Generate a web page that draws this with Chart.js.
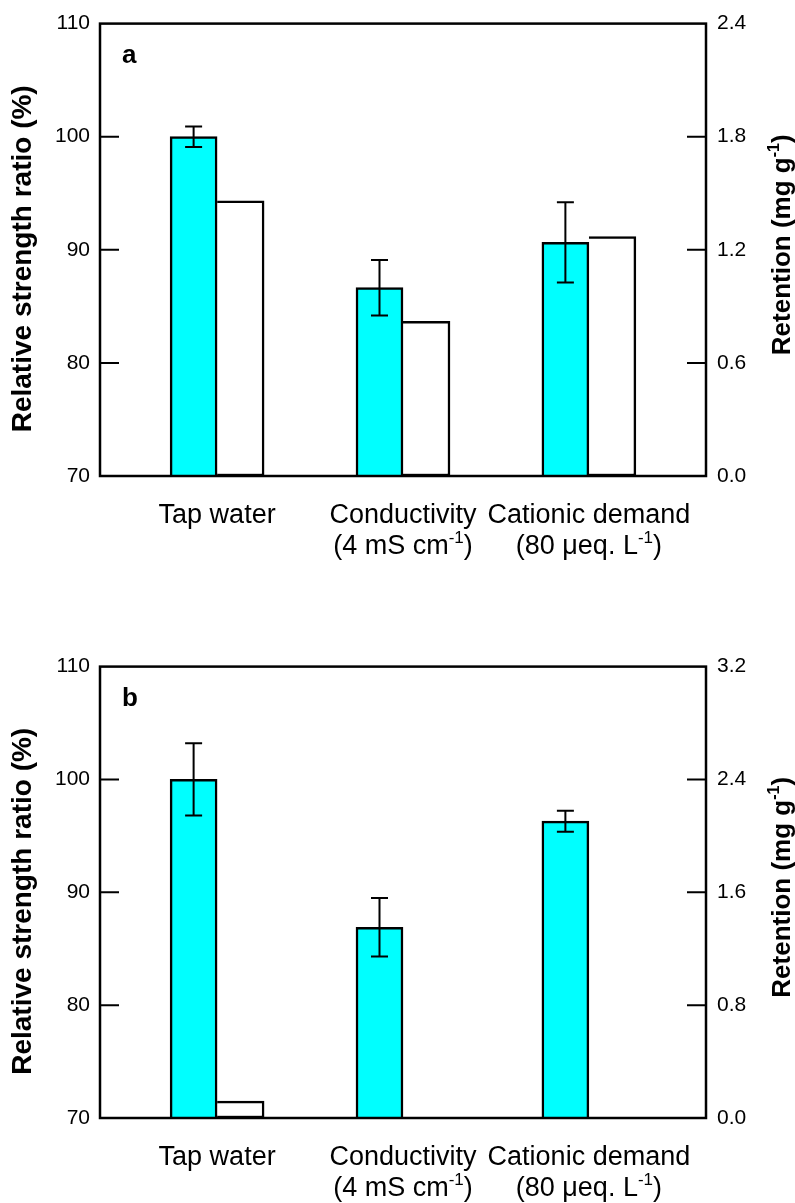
<!DOCTYPE html>
<html>
<head>
<meta charset="utf-8">
<script src="https://cdn.jsdelivr.net/npm/chart.js@4.4.1/dist/chart.umd.min.js"></script>
<style>
  body { margin: 0; background: #fff; }
  #wrap { position: relative; width: 795px; height: 1203px; }
  canvas { position: absolute; left: 0; }
</style>
</head>
<body>
<div id="wrap">
  <canvas id="chartA" width="795" height="643" style="top:0"></canvas>
  <canvas id="chartB" width="795" height="560" style="top:643px"></canvas>
</div>
<script>
// categories, ^{..} marks a superscript
const categories = ['Tap water', 'Conductivity\n(4 mS cm^{-1})', 'Cationic demand\n(80 μeq. L^{-1})'];

// panel a
const strengthA = [100, 86.65, 90.65];
const strengthErrA = [0.9, 2.45, 3.55];
const retentionA = [1.46, 0.82, 1.27];
const retTicksA = [0, 0.6, 1.2, 1.8, 2.4];

// panel b
const strengthB = [100, 86.9, 96.3];
const strengthErrB = [3.2, 2.6, 0.93];
const retentionB = [0.12, 0, 0];
const retTicksB = [0, 0.8, 1.6, 2.4, 3.2];

const strengthTicks = [70, 80, 90, 100, 110];

const FONT = "'Liberation Sans', Arial, Helvetica, sans-serif";
Chart.defaults.font.family = FONT;
Chart.defaults.color = '#000';

// draws text with ^{...} superscripts, centred on x, baseline at y
function drawRich(ctx, str, x, y, size, bold) {
  const parts = str.split(/\^\{([^}]*)\}/);
  const w = bold ? 'bold ' : '';
  const supSize = Math.round(size * 0.62);
  let total = 0;
  parts.forEach((p, i) => {
    ctx.font = w + (i % 2 ? supSize : size) + 'px ' + FONT;
    total += ctx.measureText(p).width;
  });
  let cx = x - total / 2;
  ctx.textAlign = 'left';
  ctx.textBaseline = 'alphabetic';
  parts.forEach((p, i) => {
    const sup = i % 2 === 1;
    ctx.font = w + (sup ? supSize : size) + 'px ' + FONT;
    ctx.fillText(p, cx, sup ? y - size * 0.42 : y);
    cx += ctx.measureText(p).width;
  });
}

const panelPlugin = {
  id: 'panel',
  afterDatasetsDraw(chart, args, opts) {
    const ctx = chart.ctx;
    const a = chart.chartArea;
    const xs = chart.scales.x, y = chart.scales.y, y2 = chart.scales.y2;
    ctx.save();
    ctx.strokeStyle = '#000';
    ctx.fillStyle = '#000';

    // error bars on the strength bars
    const meta = chart.getDatasetMeta(0);
    const vals = chart.data.datasets[0].data;
    ctx.lineWidth = 2;
    opts.errors.forEach((e, i) => {
      const bar = meta.data[i];
      const top = y.getPixelForValue(vals[i].y + e);
      const bot = y.getPixelForValue(vals[i].y - e);
      ctx.beginPath();
      ctx.moveTo(bar.x, top); ctx.lineTo(bar.x, bot);
      ctx.moveTo(bar.x - 8.5, top); ctx.lineTo(bar.x + 8.5, top);
      ctx.moveTo(bar.x - 8.5, bot); ctx.lineTo(bar.x + 8.5, bot);
      ctx.stroke();
    });

    // frame
    ctx.lineWidth = 2.5;
    ctx.strokeRect(a.left, a.top, a.right - a.left, a.bottom - a.top);

    // inward ticks
    ctx.lineWidth = 2;
    ctx.beginPath();
    y.ticks.forEach(t => {
      if (t.value <= y.min || t.value >= y.max) return;
      const py = y.getPixelForValue(t.value);
      ctx.moveTo(a.left, py); ctx.lineTo(a.left + 19, py);
    });
    y2.ticks.forEach(t => {
      if (t.value <= y2.min || t.value >= y2.max) return;
      const py = y2.getPixelForValue(t.value);
      ctx.moveTo(a.right, py); ctx.lineTo(a.right - 19, py);
    });
    ctx.stroke();

    // panel letter
    ctx.font = 'bold 26px ' + FONT;
    ctx.textAlign = 'left';
    ctx.textBaseline = 'alphabetic';
    ctx.fillText(opts.letter, a.left + 22, a.top + 39);

    // category labels
    categories.forEach((c, i) => {
      const cx = xs.getPixelForValue(i + 1);
      c.split('\n').forEach((ln, j) => {
        drawRich(ctx, ln, cx, a.bottom + 47 + j * 31, 27, false);
      });
    });

    // axis titles
    const mid = (a.top + a.bottom) / 2;
    ctx.save();
    ctx.translate(22, mid + 9);
    ctx.rotate(-Math.PI / 2);
    drawRich(ctx, 'Relative strength ratio (%)', 0, 9, 28, true);
    ctx.restore();

    ctx.save();
    ctx.translate(781, mid - 5);
    ctx.rotate(-Math.PI / 2);
    drawRich(ctx, 'Retention (mg g^{-1})', 0, 9, 26, true);
    ctx.restore();

    ctx.restore();
  }
};

function makePanel(id, letter, strength, errs, retention, retTicks, xHeight) {
  new Chart(document.getElementById(id), {
    type: 'bar',
    data: {
      datasets: [{
        label: 'Relative strength ratio',
        data: strength.map((v, i) => ({ x: i + 1, y: v })),
        yAxisID: 'y',
        backgroundColor: '#00ffff',
        borderColor: '#000',
        borderWidth: 2.5,
        borderSkipped: false
      }, {
        label: 'Retention',
        data: retention.map((v, i) => ({ x: i + 1, y: v })),
        yAxisID: 'y2',
        backgroundColor: '#fff',
        borderColor: '#000',
        borderWidth: { top: 2.5, right: 2.5, bottom: 2.5, left: 0 },
        borderSkipped: false
      }]
    },
    options: {
      responsive: false,
      animation: false,
      devicePixelRatio: 1,
      barThickness: 47,
      layout: { padding: { top: 22, left: 0, right: 0, bottom: 0 } },
      plugins: {
        legend: { display: false },
        tooltip: { enabled: false },
        panel: { letter: letter, errors: errs }
      },
      scales: {
        x: {
          type: 'linear',
          offset: false,
          min: 0.37,
          max: 3.63,
          grid: { display: false, drawTicks: false, offset: false },
          border: { display: false },
          ticks: { display: false },
          afterFit: s => { s.height = xHeight; }
        },
        y: {
          position: 'left',
          min: strengthTicks[0],
          max: strengthTicks[strengthTicks.length - 1],
          afterBuildTicks: s => { s.ticks = strengthTicks.map(v => ({ value: v })); },
          grid: { display: false, drawTicks: false },
          border: { display: false },
          ticks: { padding: 10, font: { size: 21 }, color: '#000' },
          afterFit: s => { s.width = 100; }
        },
        y2: {
          position: 'right',
          min: retTicks[0],
          max: retTicks[retTicks.length - 1],
          afterBuildTicks: s => { s.ticks = retTicks.map(v => ({ value: v })); },
          grid: { display: false, drawTicks: false },
          border: { display: false },
          ticks: { padding: 11, font: { size: 21 }, color: '#000', callback: v => v.toFixed(1) },
          afterFit: s => { s.width = 89; }
        }
      }
    },
    plugins: [panelPlugin]
  });
}

makePanel('chartA', 'a', strengthA, strengthErrA, retentionA, retTicksA, 167);
makePanel('chartB', 'b', strengthB, strengthErrB, retentionB, retTicksB, 85);
</script>
</body>
</html>
